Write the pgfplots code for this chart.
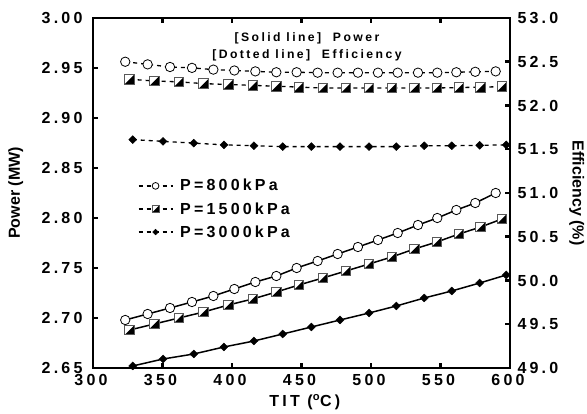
\documentclass[border=0pt]{standalone}
\usepackage{fontspec}
\setmainfont{Liberation Sans}
\newfontfamily\spfont{Liberation Sans}[LetterSpace=20]
\usepackage{pgfplots}
\pgfplotsset{compat=1.18}

\pgfdeclareplotmark{hsq}{%
  \pgfpathrectangle{\pgfqpoint{-\pgfplotmarksize}{-\pgfplotmarksize}}{\pgfqpoint{2\pgfplotmarksize}{2\pgfplotmarksize}}%
  \pgfsetfillcolor{white}\pgfusepath{fill}%
  \pgfpathmoveto{\pgfqpoint{-\pgfplotmarksize}{-\pgfplotmarksize}}%
  \pgfpathlineto{\pgfqpoint{\pgfplotmarksize}{-\pgfplotmarksize}}%
  \pgfpathlineto{\pgfqpoint{\pgfplotmarksize}{\pgfplotmarksize}}%
  \pgfpathclose
  \pgfsetfillcolor{black}\pgfusepath{fill}%
  \pgfpathrectangle{\pgfqpoint{-\pgfplotmarksize}{-\pgfplotmarksize}}{\pgfqpoint{2\pgfplotmarksize}{2\pgfplotmarksize}}%
  \pgfsetstrokecolor{black!65}\pgfusepath{stroke}%
}

\newcommand\tf{\spfont\bfseries\fontsize{16}{19}\selectfont}
\newcommand\af{\spfont\bfseries\fontsize{12.2}{17}\selectfont}

\pgfplotstableread{
x p e
323.2 2.698 52.50
339.3 2.704 52.47
355.4 2.710 52.44
371.2 2.716 52.43
386.6 2.722 52.41
401.7 2.729 52.40
416.8 2.736 52.39
431.9 2.742 52.38
446.5 2.750 52.38
461.6 2.757 52.375
476.0 2.764 52.375
490.6 2.771 52.375
505.0 2.778 52.375
519.2 2.785 52.375
533.8 2.793 52.375
547.7 2.800 52.375
561.4 2.808 52.38
575.0 2.815 52.385
589.7 2.825 52.39
}\tlow

\pgfplotstableread{
x p e
326.4 2.688 52.30
344.1 2.694 52.28
361.9 2.700 52.27
379.6 2.706 52.25
397.4 2.713 52.24
414.9 2.719 52.23
431.9 2.726 52.22
448.1 2.733 52.21
465.3 2.740 52.20
482.0 2.747 52.20
498.6 2.754 52.20
514.9 2.761 52.20
531.2 2.769 52.20
547.3 2.776 52.20
563.3 2.784 52.205
578.9 2.791 52.21
594.2 2.799 52.215
}\tmid

\pgfplotstableread{
x p e
328.6 2.652 51.61
350.4 2.659 51.59
372.5 2.664 51.57
394.2 2.671 51.55
415.8 2.677 51.54
436.5 2.684 51.53
457.1 2.691 51.53
477.7 2.698 51.53
498.6 2.705 51.53
518.2 2.712 51.53
538.3 2.720 51.54
558.1 2.727 51.54
578.2 2.735 51.545
597.3 2.743 51.55
}\thigh

\begin{document}
\begin{tikzpicture}
\path[use as bounding box] (-93pt,-46pt) rectangle (494pt,368pt);
\begin{axis}[
  scale only axis, width=417pt, height=350pt,
  xmin=300, xmax=600, ymin=2.65, ymax=3.00,
  xtick={300,350,400,450,500,550,600},
  ytick={2.65,2.70,2.75,2.80,2.85,2.90,2.95,3.00},
  tick align=inside, ytick pos=left, xtick pos=both,
  axis line style={line width=2.5pt},
  major tick length=5pt,
  every tick/.style={line width=2.5pt, black},
  /pgf/number format/assume math mode=true,
  ticklabel style={font=\tf},
  yticklabel style={xshift=-7pt, /pgf/number format/.cd, fixed, fixed zerofill, precision=2},
  xticklabel style={yshift=-3pt, xshift=-2pt, /pgf/number format/.cd, fixed, precision=0, 1000 sep={}},
  xlabel={TIT (\textsuperscript{o}C)}, ylabel={Power (MW)},
  every axis x label/.style={at={(axis description cs:0.508,-0.097)}, anchor=center, font=\tf},
  every axis y label/.style={at={(axis description cs:-0.185,0.5)}, anchor=center, rotate=90, font=\bfseries\fontsize{16}{19}\selectfont},
  clip=false,
]
\addplot[black, line width=1.5pt, mark=*, mark size=4.7pt, mark options={fill=white, draw=black, line width=0.8pt}] table[x=x,y=p] {\tlow};
\addplot[black, line width=1.5pt, mark=hsq, mark size=4.8pt, mark options={line width=0.8pt}] table[x=x,y=p] {\tmid};
\addplot[black, line width=1.5pt, mark=diamond*, mark size=3.9pt, mark options={fill=black, draw=black, line width=0.5pt, xscale=1.35}] table[x=x,y=p] {\thigh};
\node[font=\af, align=center] at (axis description cs:0.513,0.917) {{[Solid line]}\ \ Power\\{}{[Dotted line]}\ \ Efficiency};
\end{axis}
\begin{axis}[
  scale only axis, width=417pt, height=350pt,
  xmin=300, xmax=600, ymin=49, ymax=53,
  axis x line=none, axis y line*=right,
  ytick={49,49.5,50,50.5,51,51.5,52,52.5,53},
  tick align=inside,
  axis line style={line width=2.5pt},
  major tick length=5pt,
  every tick/.style={line width=2.5pt, black},
  /pgf/number format/assume math mode=true,
  ticklabel style={font=\tf},
  yticklabel style={xshift=4pt, /pgf/number format/.cd, fixed, fixed zerofill, precision=1},
  ylabel={Efficiency (\%)},
  every axis y label/.style={at={(axis description cs:1.160,0.5)}, anchor=center, rotate=-90, font=\bfseries\fontsize{16}{19}\selectfont},
  clip=false,
  legend style={at={(axis description cs:0.10,0.551)}, anchor=north west, draw=none, fill=none, font=\tf, row sep=6pt, column sep=5pt},
  legend cell align=left,
  legend image code/.code={\draw[#1, mark repeat=2, mark phase=2, every mark/.append style={scale=0.72}] plot coordinates {(0pt,0pt) (17pt,0pt) (34pt,0pt)};},
]
\addplot[black, line width=1.3pt, dash pattern=on 4pt off 4pt, mark=*, mark size=4.7pt, mark options={solid, fill=white, draw=black, line width=0.8pt}] table[x=x,y=e] {\tlow};
\addlegendentry{P=800kPa}
\addplot[black, line width=1.3pt, dash pattern=on 4pt off 4pt, mark=hsq, mark size=4.8pt, mark options={solid, line width=0.8pt}] table[x=x,y=e] {\tmid};
\addlegendentry{P=1500kPa}
\addplot[black, line width=1.3pt, dash pattern=on 4pt off 4pt, mark=diamond*, mark size=3.9pt, mark options={solid, fill=black, draw=black, line width=0.5pt, xscale=1.35}] table[x=x,y=e] {\thigh};
\addlegendentry{P=3000kPa}
\end{axis}
\end{tikzpicture}
\end{document}
